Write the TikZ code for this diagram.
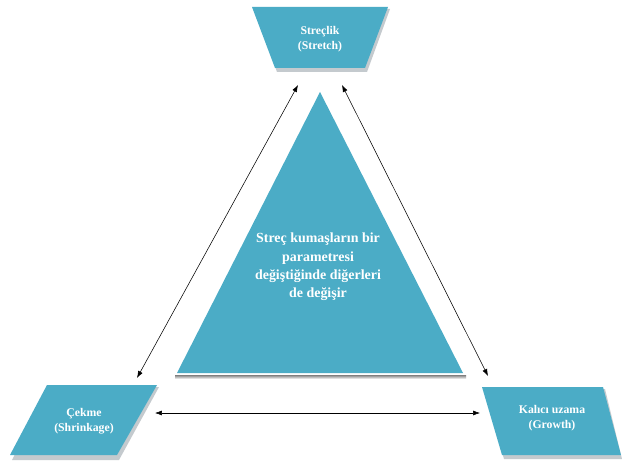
\documentclass[tikz,border=0pt]{standalone}
\usepackage{fontspec}
\setmainfont{Liberation Serif}
\usetikzlibrary{arrows.meta}
\definecolor{teal5}{RGB}{75,172,198}
\definecolor{shade}{RGB}{196,202,206}
\tikzset{
  panel/.style={fill=teal5, draw=none},
  panelshadow/.style={fill=shade, draw=none},
  label/.style={text=white, font=\bfseries\fontsize{11.8}{15}\selectfont, align=center, inner sep=0pt},
  biglabel/.style={text=white, font=\bfseries\fontsize{14}{18.5}\selectfont, align=center, inner sep=0pt},
  link/.style={line width=0.55pt, black, {Latex[length=7pt,width=5pt]}-{Latex[length=7pt,width=5pt]}}
}
\begin{document}
\begin{tikzpicture}[x=1bp, y=-1bp]
  \useasboundingbox (0,0) rectangle (622,463);
  \fill[white] (0,0) rectangle (622,463);

  % central triangle with a thin base shadow
  \fill[shade] (175,375) rectangle (466,379);
  \fill[panel] (320,92) -- (463,373) -- (177,373) -- cycle;
  \node[biglabel] (core) at (318,267) {Streç kumaşların bir\\parametresi\\değiştiğinde diğerleri\\de değişir};

  % top trapezium: stretch
  \fill[panelshadow] (254,9) -- (390,9) -- (367,72) -- (277,72) -- cycle;
  \fill[panel] (252,7) -- (388,7) -- (365,68) -- (275,68) -- cycle;
  \node[label] (stretch) at (320,39) {Streçlik\\(Stretch)};

  % lower left parallelogram: shrinkage
  \fill[panelshadow] (49,387) -- (159,387) -- (119,460) -- (12,460) -- cycle;
  \fill[panel] (47,385) -- (157,385) -- (117,455) -- (10,455) -- cycle;
  \node[label] (shrink) at (84,421) {Çekme\\(Shrinkage)};

  % lower right parallelogram: growth
  \fill[panelshadow] (484,389) -- (605,389) -- (622,459) -- (504,459) -- cycle;
  \fill[panel] (482,387) -- (603,387) -- (621,455) -- (502,455) -- cycle;
  \node[label] (growth) at (552,418) {Kalıcı uzama\\(Growth)};

  % connector end points
  \coordinate (sL) at (298,85);
  \coordinate (sR) at (342,85);
  \coordinate (cT) at (137,378);
  \coordinate (cR) at (155,413);
  \coordinate (gT) at (488,376);
  \coordinate (gL) at (480,413);

  \draw[link] (cT) -- (sL);
  \draw[link] (gT) -- (sR);
  \draw[link] (cR) -- (gL);
\end{tikzpicture}
\end{document}
